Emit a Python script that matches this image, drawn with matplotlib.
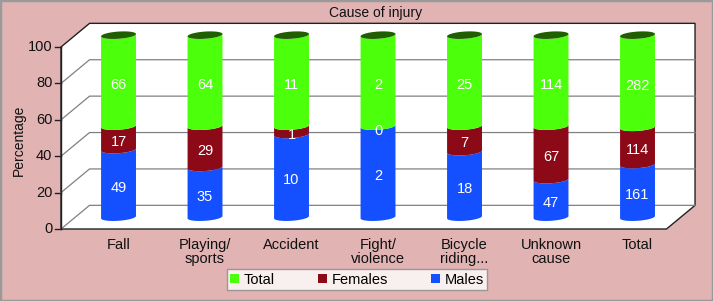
import numpy as np
import matplotlib.pyplot as plt
from matplotlib.patches import Polygon, Rectangle, Patch

categories = ['Fall', 'Playing/\nsports', 'Accident', 'Fight/\nviolence',
              'Bicycle\nriding...', 'Unknown\ncause', 'Total']
males = [49, 35, 10, 2, 18, 47, 161]
females = [17, 29, 1, 0, 7, 67, 114]
total = [66, 64, 11, 2, 25, 114, 282]
yticks = [0, 20, 40, 60, 80, 100]
series_names = ['Total', 'Females', 'Males']

plt.rcParams['font.family'] = ['Liberation Sans', 'DejaVu Sans']

c_green = '#4cff0a'
c_top = '#1f5f00'
c_red = '#8c0a18'
c_blue = '#1450ff'
bg = '#e1b3b3'

W, H = 713, 301
fig = plt.figure(figsize=(W / 100, H / 100), dpi=100, facecolor=bg)

# pixel scale of the front plane
px_x, px_y = 86.5, 1.82
xmin, xmax = -0.8, 7.0
ymin, ymax = -2, 116
left = 61 + (xmin + 0.5) * px_x
right = 61 + (xmax + 0.5) * px_x
bottom = 229 - ymin * px_y
top = 229 - ymax * px_y
ax = fig.add_axes([left / W, 1 - bottom / H, (right - left) / W, (bottom - top) / H])
ax.set_xlim(xmin, xmax)
ax.set_ylim(ymin, ymax)
ax.axis('off')

dx, dy = 0.33, 13.0   # depth offset
n = len(categories)
xl, xr = -0.5, n - 0.5

# walls + floor
wall = Polygon([(xl, 0), (xl, 100), (xl + dx, 100 + dy), (xr + dx, 100 + dy),
                (xr + dx, dy), (xr, 0)], closed=True, facecolor='white',
               edgecolor='#222222', lw=1.0, zorder=1)
ax.add_patch(wall)
for v in yticks[:-1]:
    ax.plot([xl, xl + dx, xr + dx], [v, v + dy, v + dy], color='#808080', lw=0.9, zorder=2)
for v in yticks:
    ax.plot([xl - 0.07, xl], [v, v], color='#222222', lw=1.0, zorder=2, clip_on=False)
    ax.text(xl - 0.1, v, str(v), ha='right', va='center', fontsize=10.5, color='#111111')
ax.plot([xl, xl], [0, 100], color='#222222', lw=1.0, zorder=3)

# cylinder geometry in pixels
a, b, theta = 17.5, 3.6, np.deg2rad(4)


def ell(cx, cy, t):
    ex = a * np.cos(t) * np.cos(theta) - b * np.sin(t) * np.sin(theta)
    ey = a * np.cos(t) * np.sin(theta) + b * np.sin(t) * np.cos(theta)
    return cx + ex / px_x, cy + ey / px_y


t_low = np.linspace(np.pi, 2 * np.pi, 40)
t_full = np.linspace(0, 2 * np.pi, 80)

m = np.array(males, float)
f = np.array(females, float)
t = np.array(total, float)
s = m + f + t
pm = m / s * 100
pf = f / s * 100

for i in range(n):
    cx = i + dx / 2
    base = dy / 2
    segs = [(0, pm[i], c_blue, males[i]),
            (pm[i], pm[i] + pf[i], c_red, females[i]),
            (pm[i] + pf[i], 100, c_green, total[i])]
    for v0, v1, col, lab in segs:
        x0s, y0s = ell(cx, base + v0, t_low)
        x1s, y1s = ell(cx, base + v1, t_low[::-1])
        pts = np.column_stack([np.r_[x0s, x1s], np.r_[y0s, y1s]])
        ax.add_patch(Polygon(pts, closed=True, facecolor=col, edgecolor='none', zorder=4))
        ax.text(cx, base + (v0 + v1) / 2 - 2.5, str(lab), ha='center', va='center',
                color='white', fontsize=10.5, zorder=6)
    xt, yt = ell(cx, base + 100, t_full)
    ax.add_patch(Polygon(np.column_stack([xt, yt]), closed=True, facecolor=c_top,
                         edgecolor='none', zorder=5))
    ax.text(cx, -4.8, categories[i], ha='center', va='top', fontsize=10.5,
            linespacing=1.05, color='#111111')

fig.text(376 / W, 1 - 13 / H, 'Cause of injury', ha='center', va='center',
         fontsize=10, color='#111111')
fig.text(19 / W, 1 - 140 / H, 'Percentage', rotation=90, ha='center', va='center',
         fontsize=10, color='#111111')

handles = [Patch(facecolor=c_green), Patch(facecolor=c_red), Patch(facecolor=c_blue)]
leg = fig.legend(handles, series_names, loc='center', bbox_to_anchor=(357 / W, 1 - 279.5 / H),
                 ncol=3, frameon=True, fancybox=False, fontsize=10.5, handlelength=0.6,
                 handleheight=0.6, handletextpad=0.3, columnspacing=3.0,
                 borderpad=0.25, borderaxespad=0)
leg.get_frame().set_edgecolor('#888888')
leg.get_frame().set_linewidth(1.0)

fig.patches.append(Rectangle((0, 0), 1, 1, transform=fig.transFigure, fill=False,
                             edgecolor='#9a9a9a', lw=2.5))

fig.savefig('out.png', dpi=100, facecolor=bg)
